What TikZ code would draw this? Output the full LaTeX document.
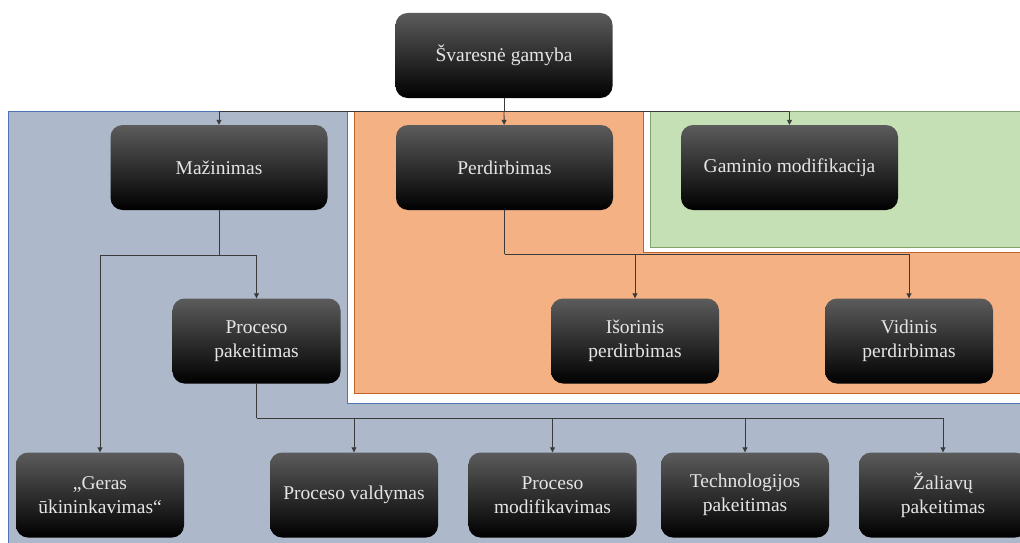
\documentclass[tikz,border=0pt]{standalone}
\usepackage{fontspec}
\setmainfont{Liberation Serif}
\usetikzlibrary{arrows.meta}
\definecolor{blueFill}{HTML}{ADB9CA}
\definecolor{blueLine}{HTML}{4F72B8}
\definecolor{orangeFill}{HTML}{F4B183}
\definecolor{orangeLine}{HTML}{C0622A}
\definecolor{greenFill}{HTML}{C5E0B4}
\definecolor{greenLine}{HTML}{7FA36A}
\definecolor{wireCol}{HTML}{3A3A3A}
\begin{document}
\begin{tikzpicture}[x=1pt, y=-1pt,
  box/.style={rounded corners=12pt, minimum width=168pt, minimum height=85pt, inner sep=0pt,
    top color=black!64, middle color=black, bottom color=black, draw=none,
    text=white!90!black, align=center, font=\fontsize{19.5}{24}\selectfont},
  wide/.style={minimum width=217pt},
  group/.style={line width=0.9pt},
  wire/.style={draw=wireCol, line width=0.9pt},
  arr/.style={-{Triangle[length=5pt,width=5pt]}}]
\useasboundingbox (0,0) rectangle (1020,543);
\clip (0,0) rectangle (1020,543);
% groups
\draw[group, fill=blueFill, draw=blueLine] (8,111) -- (347,111) -- (347,403) -- (1030,403) -- (1030,553) -- (8,553) -- cycle;
\draw[group, fill=orangeFill, draw=orangeLine] (354,111) -- (643,111) -- (643,252) -- (1030,252) -- (1030,393) -- (354,393) -- cycle;
\draw[group, fill=greenFill, draw=greenLine] (650,111) rectangle (1030,247);
% boxes
\node[box, wide] (top) at (504,55.5){Švaresnė gamyba};
\node[box, wide] (maz) at (219,167.5){Mažinimas};
\node[box, wide] (per) at (504.5,167.5){Perdirbimas};
\node[box, wide] (gam) at (789.5,167.5){Gaminio modifikacija};
\node[box] (pp) at (256.5,341){Proceso\\pakeitimas};
\node[box] (isor) at (635,341){Išorinis\\perdirbimas};
\node[box] (vid) at (909,341){Vidinis\\perdirbimas};
\node[box] (geras) at (100,495){„Geras\\ūkininkavimas“};
\node[box] (vald) at (354,495){Proceso valdymas};
\node[box] (modif) at (552.5,495){Proceso\\modifikavimas};
\node[box] (tech) at (745,495){Technologijos\\pakeitimas};
\node[box] (zal) at (943,495){Žaliavų\\pakeitimas};
% connectors
\coordinate (b1) at (top.south |- 0,111);
\coordinate (b2) at (maz.south |- 0,255);
\coordinate (b3) at (per.south |- 0,254);
\coordinate (b4) at (pp.south |- 0,418);
\draw[wire](top) -- (b1);
\draw[wire, arr](b1) -| (maz);
\draw[wire, arr](b1) -- (per);
\draw[wire, arr](b1) -| (gam);
\draw[wire](maz) -- (b2);
\draw[wire, arr](b2) -| (geras);
\draw[wire, arr](b2) -| (pp);
\draw[wire](per) -- (b3);
\draw[wire, arr](b3) -| (isor);
\draw[wire, arr](b3) -| (vid);
\draw[wire](pp) -- (b4);
\draw[wire, arr](b4) -| (vald);
\draw[wire, arr](b4) -| (modif);
\draw[wire, arr](b4) -| (tech);
\draw[wire, arr](b4) -| (zal);
\end{tikzpicture}
\end{document}
